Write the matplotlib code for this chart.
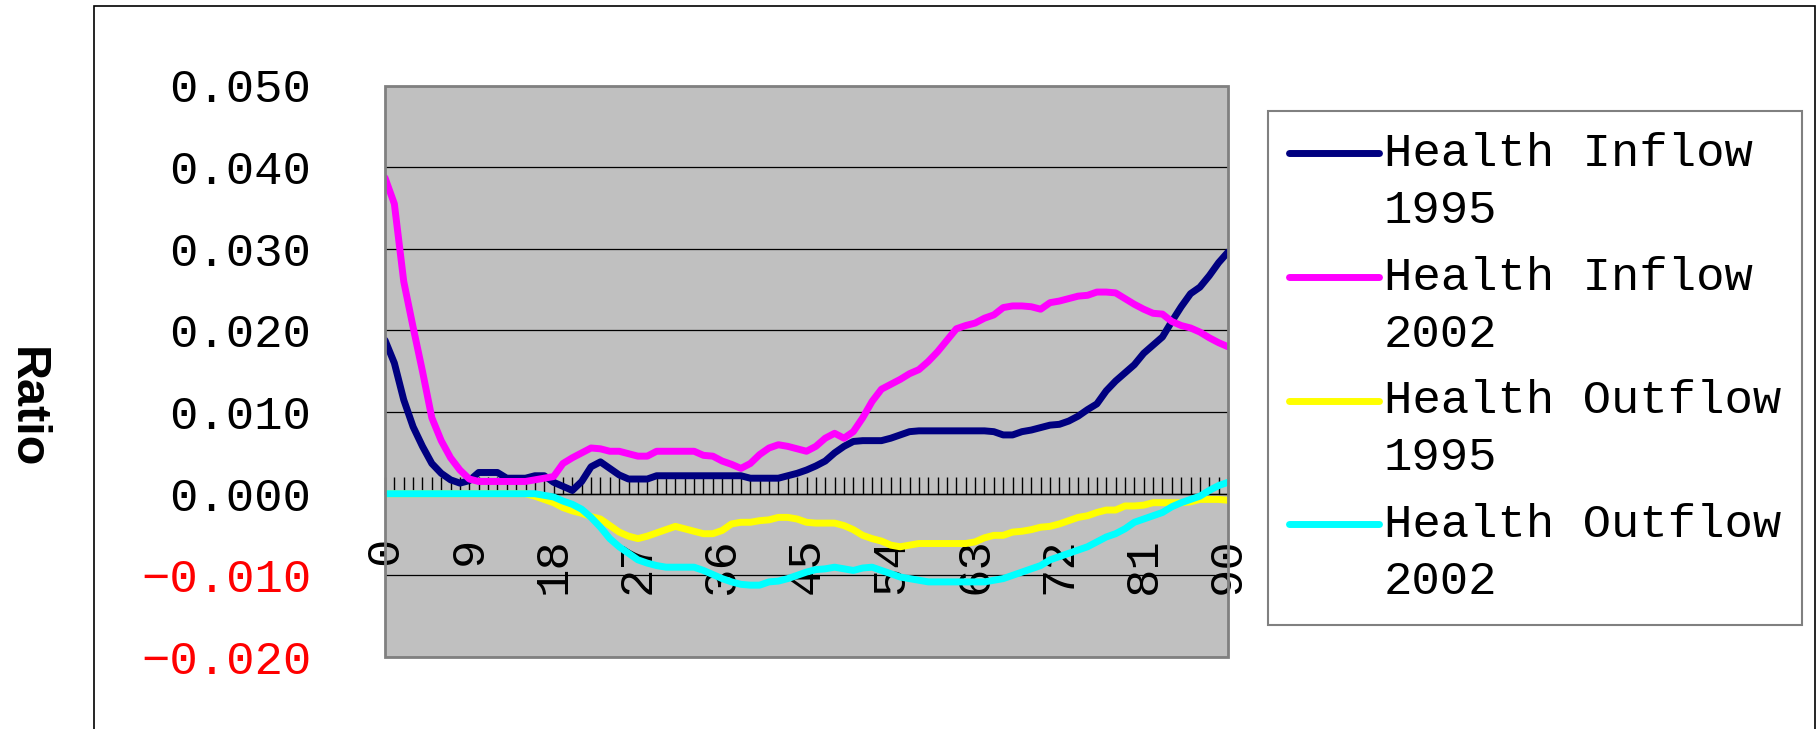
import numpy as np
import matplotlib
matplotlib.use('Agg')
from matplotlib import pyplot as plt
from matplotlib.lines import Line2D
from matplotlib.patches import Rectangle
from matplotlib.legend_handler import HandlerLine2D

# age categories on the x axis
ages = list(range(91))

inflow_1995 = [
    0.0188, 0.0160, 0.0115, 0.0082, 0.0058, 0.0037, 0.0025, 0.0017, 0.0013, 0.0016,
    0.0026, 0.0026, 0.0026, 0.0019, 0.0019, 0.0019, 0.0022, 0.0022, 0.0014, 0.0009,
    0.0004, 0.0015, 0.0033, 0.0039, 0.0031, 0.0023, 0.0018, 0.0018, 0.0018, 0.0022,
    0.0022, 0.0022, 0.0022, 0.0022, 0.0022, 0.0022, 0.0022, 0.0022, 0.0022, 0.0019,
    0.0019, 0.0019, 0.0019, 0.0022, 0.0025, 0.0029, 0.0034, 0.0040, 0.0050, 0.0058,
    0.0064, 0.0065, 0.0065, 0.0065, 0.0068, 0.0072, 0.0076, 0.0077, 0.0077, 0.0077,
    0.0077, 0.0077, 0.0077, 0.0077, 0.0077, 0.0076, 0.0072, 0.0072, 0.0076, 0.0078,
    0.0081, 0.0084, 0.0085, 0.0089, 0.0095, 0.0103, 0.0110, 0.0126, 0.0138, 0.0148,
    0.0158, 0.0172, 0.0182, 0.0192, 0.0211, 0.0229, 0.0245, 0.0253, 0.0267, 0.0283,
    0.0296]

inflow_2002 = [
    0.0387, 0.0355, 0.0260, 0.0204, 0.0150, 0.0093, 0.0065, 0.0044, 0.0029, 0.0018,
    0.0015, 0.0015, 0.0015, 0.0015, 0.0015, 0.0015, 0.0017, 0.0019, 0.0021, 0.0037,
    0.0044, 0.0050, 0.0056, 0.0055, 0.0052, 0.0052, 0.0049, 0.0046, 0.0046, 0.0052,
    0.0052, 0.0052, 0.0052, 0.0052, 0.0047, 0.0046, 0.0040, 0.0036, 0.0031, 0.0037,
    0.0048, 0.0056, 0.0060, 0.0058, 0.0055, 0.0052, 0.0058, 0.0068, 0.0074, 0.0068,
    0.0076, 0.0093, 0.0113, 0.0128, 0.0134, 0.0140, 0.0147, 0.0152, 0.0162, 0.0174,
    0.0188, 0.0202, 0.0206, 0.0209, 0.0215, 0.0219, 0.0228, 0.0230, 0.0230, 0.0229,
    0.0226, 0.0234, 0.0236, 0.0239, 0.0242, 0.0243, 0.0247, 0.0247, 0.0246, 0.0239,
    0.0232, 0.0226, 0.0221, 0.0220, 0.0211, 0.0206, 0.0203, 0.0198, 0.0191, 0.0185,
    0.0180]

outflow_1995 = [
    0.0, 0.0, 0.0, 0.0, 0.0, 0.0, 0.0, 0.0, 0.0, 0.0,
    0.0, 0.0, 0.0, 0.0, 0.0, 0.0, -0.0003, -0.0007, -0.0011, -0.0017,
    -0.0021, -0.0024, -0.0028, -0.0031, -0.0039, -0.0047, -0.0052, -0.0055, -0.0052, -0.0048,
    -0.0044, -0.0040, -0.0043, -0.0046, -0.0049, -0.0049, -0.0045, -0.0037, -0.0035, -0.0035,
    -0.0033, -0.0032, -0.0029, -0.0029, -0.0031, -0.0035, -0.0036, -0.0036, -0.0036, -0.0039,
    -0.0044, -0.0051, -0.0055, -0.0058, -0.0063, -0.0065, -0.0063, -0.0061, -0.0061, -0.0061,
    -0.0061, -0.0061, -0.0061, -0.0059, -0.0054, -0.0051, -0.0051, -0.0047, -0.0046, -0.0044,
    -0.0041, -0.0040, -0.0037, -0.0033, -0.0029, -0.0027, -0.0023, -0.0020, -0.0020, -0.0015,
    -0.0015, -0.0014, -0.0011, -0.0011, -0.0011, -0.0011, -0.0010, -0.0007, -0.0007, -0.0007,
    -0.0008]

outflow_2002 = [
    0.0, 0.0, 0.0, 0.0, 0.0, 0.0, 0.0, 0.0, 0.0, 0.0,
    0.0, 0.0, 0.0, 0.0, 0.0, 0.0, 0.0, -0.0002, -0.0004, -0.0009,
    -0.0013, -0.0019, -0.0029, -0.0041, -0.0055, -0.0065, -0.0073, -0.0081, -0.0085, -0.0088,
    -0.0090, -0.0090, -0.0090, -0.0090, -0.0094, -0.0099, -0.0104, -0.0108, -0.0111, -0.0112,
    -0.0112, -0.0108, -0.0107, -0.0104, -0.0100, -0.0096, -0.0093, -0.0092, -0.0090, -0.0092,
    -0.0094, -0.0091, -0.0090, -0.0094, -0.0098, -0.0102, -0.0104, -0.0106, -0.0108, -0.0108,
    -0.0108, -0.0108, -0.0108, -0.0108, -0.0108, -0.0106, -0.0104, -0.0100, -0.0096, -0.0092,
    -0.0088, -0.0081, -0.0077, -0.0073, -0.0069, -0.0065, -0.0059, -0.0053, -0.0049, -0.0043,
    -0.0035, -0.0031, -0.0027, -0.0023, -0.0016, -0.0011, -0.0007, -0.0003, 0.0004, 0.0010,
    0.0014]

series_names = ['Health Inflow\n1995', 'Health Inflow\n2002',
                'Health Outflow\n1995', 'Health Outflow\n2002']
series_colors = ['#000080', '#FF00FF', '#FFFF00', '#00FFFF']
y_ticks = [-0.02, -0.01, 0.0, 0.01, 0.02, 0.03, 0.04, 0.05]

mono = ['Liberation Mono', 'DejaVu Sans Mono']


class FirstLineHandler(HandlerLine2D):
    # put the legend line next to the first text line instead of the middle
    def create_artists(self, legend, orig_handle, xdescent, ydescent,
                       width, height, fontsize, trans):
        artists = super().create_artists(legend, orig_handle, xdescent, ydescent,
                                         width, height, fontsize, trans)
        for a in artists:
            a.set_ydata(np.asarray(a.get_ydata()) + 0.63 * fontsize)
        return artists


W, H = 1819, 729
fig = plt.figure(figsize=(W / 100, H / 100), dpi=100)

# outer chart frame
fig.patches.append(Rectangle((94 / W, -0.1), (1815 - 94) / W, 1.1 - 6 / H,
                             transform=fig.transFigure, fill=False,
                             edgecolor='black', linewidth=1.2))

ax = fig.add_axes([385 / W, 72 / H, 843 / W, 571.5 / H])
ax.set_facecolor('#C0C0C0')

for vals, name, col in zip([inflow_1995, inflow_2002, outflow_1995, outflow_2002],
                           series_names, series_colors):
    ax.plot(ages, vals, color=col, linewidth=5, label=name,
            solid_joinstyle='round', solid_capstyle='round', zorder=2)

ax.set_xlim(0, 90)
ax.set_ylim(-0.02, 0.05)

# plot area border
ax.add_patch(Rectangle((0, 0), 1, 1, transform=ax.transAxes, fill=False,
                       edgecolor='#808080', linewidth=2, zorder=3, clip_on=False))

for s in ['top', 'left', 'right']:
    ax.spines[s].set_visible(False)
ax.spines['bottom'].set_position(('data', 0))
ax.spines['bottom'].set_color('black')
ax.spines['bottom'].set_linewidth(1)
ax.spines['bottom'].set_zorder(1)

ax.set_axisbelow(True)
ax.yaxis.grid(True, color='black', linewidth=0.9)

ax.set_yticks(y_ticks)
ax.set_yticklabels([('−%.3f' % -v) if v < 0 else ('%.3f' % v) for v in y_ticks],
                   family=mono, fontsize=34)
for lbl, v in zip(ax.get_yticklabels(), y_ticks):
    lbl.set_color('red' if v < 0 else 'black')
ax.tick_params(axis='y', length=0, pad=53)

ax.set_xticks(ages)
ax.set_xticklabels([str(a) if a % 9 == 0 else '' for a in ages],
                   family=mono, fontsize=34, rotation=90)
ax.tick_params(axis='x', direction='in', length=12, width=1, color='black', pad=31)

fig.text(26 / W, 1 - 408 / H, 'Ratio', rotation=-90, fontsize=35, fontweight='bold',
         family='Liberation Sans', ha='center', va='center')

leg = ax.legend(handler_map={Line2D: FirstLineHandler()}, loc='upper left',
                bbox_to_anchor=(1268 / W, 1 - 111 / H), bbox_transform=fig.transFigure,
                prop={'family': mono, 'size': 34}, handlelength=1.9,
                handletextpad=0.1, borderpad=0.45, labelspacing=0.48,
                fancybox=False, framealpha=1, edgecolor='#808080', borderaxespad=0)
leg.get_frame().set_linewidth(1.5)
for t in leg.get_texts():
    t.set_linespacing(1.38)

fig.savefig('out.png', dpi=100)
